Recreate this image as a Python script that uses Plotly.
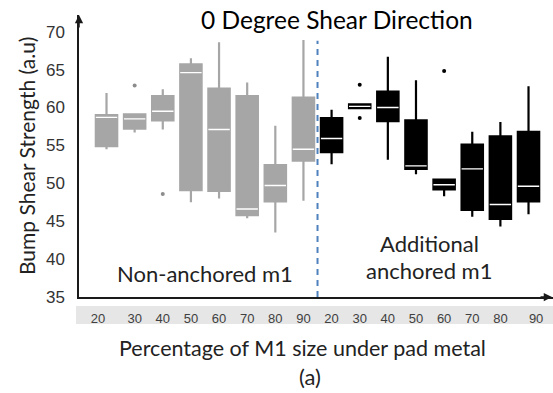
import plotly.graph_objects as go

# ---------------- data ----------------
sizes = ["20", "30", "40", "50", "60", "70", "80", "90"]

non_lo  = [54.5, 56.7, 57.1, 47.5, 48.0, 45.4, 43.5, 47.7]
non_q1  = [54.9, 57.2, 58.3, 49.1, 49.0, 45.8, 47.6, 53.0]
non_med = [58.7, 58.5, 59.5, 64.6, 57.1, 46.6, 49.7, 54.5]
non_q3  = [59.0, 59.1, 61.5, 65.7, 62.5, 61.5, 52.4, 61.3]
non_hi  = [61.9, 59.1, 62.4, 66.5, 68.6, 63.3, 57.6, 68.9]
non_out_cat = ["30", "40"]
non_out_val = [62.9, 48.6]

anc_lo  = [52.5, 59.9, 53.1, 51.2, 48.3, 45.6, 44.3, 45.9]
anc_q1  = [54.1, 59.9, 58.2, 51.9, 49.2, 46.5, 45.3, 47.6]
anc_med = [55.9, 60.15, 60.0, 52.3, 49.8, 51.9, 47.2, 49.6]
anc_q3  = [58.6, 60.4, 62.1, 58.3, 50.5, 55.1, 56.2, 56.8]
anc_hi  = [59.7, 60.4, 66.7, 63.6, 50.5, 56.8, 58.1, 62.8]
anc_out_cat = ["30", "30", "60"]
anc_out_val = [63.0, 58.6, 64.8]

y_ticks = [35, 40, 45, 50, 55, 60, 65, 70]

# ---------------- layout helpers ----------------
n = len(sizes)
x_non = list(range(n))
x_anc = list(range(n, 2 * n))
pos_non = {c: i for c, i in zip(sizes, x_non)}
pos_anc = {c: i for c, i in zip(sizes, x_anc)}
# tick labels sit under the boxes; first and last are nudged as in the source
tick_label_pos = [i for i in range(2 * n)]
tick_label_pos[0] = -0.3
tick_label_pos[-1] = 2 * n - 1 + 0.27

GRAY = "#a6a6a6"
BLACK = "#000000"
BOXW = 0.76
NUM_FONT = "Liberation Sans, Arial, sans-serif"
TXT_FONT = "Lato, Open Sans, sans-serif"

L, T, W, H = 79, 15, 474, 282   # plot area in px


def px(x):
    return (x - L) / W


def py(y):
    return (T + H - y) / H


fig = go.Figure()


def add_group(xs, lo, q1, med, q3, hi, color):
    fig.add_trace(go.Box(
        x=xs, lowerfence=lo, q1=q1, median=med, q3=q3, upperfence=hi,
        fillcolor=color, line=dict(color=color, width=2.2), width=BOXW,
        whiskerwidth=0, boxpoints=False, hoverinfo="skip", showlegend=False))
    # white median line
    fig.add_trace(go.Box(
        x=xs, lowerfence=med, q1=med, median=med, q3=med, upperfence=med,
        fillcolor="white", line=dict(color="white", width=1.4), width=BOXW,
        whiskerwidth=0, boxpoints=False, hoverinfo="skip", showlegend=False))


add_group(x_non, non_lo, non_q1, non_med, non_q3, non_hi, GRAY)
add_group(x_anc, anc_lo, anc_q1, anc_med, anc_q3, anc_hi, BLACK)

fig.add_trace(go.Scatter(
    x=[pos_non[c] for c in non_out_cat], y=non_out_val, mode="markers",
    marker=dict(color="#8c8c8c", size=4), hoverinfo="skip", showlegend=False))
fig.add_trace(go.Scatter(
    x=[pos_anc[c] for c in anc_out_cat], y=anc_out_val, mode="markers",
    marker=dict(color=BLACK, size=4), hoverinfo="skip", showlegend=False))

# divider between the two groups
fig.add_trace(go.Scatter(
    x=[n - 0.5, n - 0.5], y=[35, 68.8], mode="lines",
    line=dict(color="#4f81bd", width=2, dash="6px,5px"),
    hoverinfo="skip", showlegend=False))


def label(x, y, text, size, angle=0, color="#222222"):
    return dict(xref="paper", yref="paper", x=px(x), y=py(y), text=text,
                xanchor="center", yanchor="middle", textangle=angle,
                showarrow=False,
                font=dict(family=TXT_FONT, size=size, color=color))


fig.update_layout(
    width=553, height=393,
    margin=dict(l=L, r=553 - L - W, t=T, b=393 - T - H),
    paper_bgcolor="white", plot_bgcolor="white",
    boxmode="overlay",
    xaxis=dict(
        range=[-0.978, 15.87], showgrid=False, zeroline=False,
        showline=True, linecolor="#1a1a1a", linewidth=1.5,
        tickmode="array", tickvals=tick_label_pos, ticktext=sizes + sizes,
        ticks="", ticklabelstandoff=9,
        tickfont=dict(family=NUM_FONT, size=13, color="#404040"),
    ),
    yaxis=dict(
        range=[35, 72.2], showgrid=False, zeroline=False,
        showline=True, linecolor="#1a1a1a", linewidth=1.5,
        tickmode="array", tickvals=y_ticks, ticks="",
        ticklabelstandoff=9,
        tickfont=dict(family=NUM_FONT, size=17, color="#333333"),
    ),
    shapes=[dict(type="rect", xref="paper", yref="paper",
                 x0=px(76), x1=1.0, y0=py(324), y1=py(306),
                 fillcolor="#e6e6e6", line=dict(width=0), layer="below")],
    annotations=[
        # axis arrowheads
        dict(xref="paper", yref="paper", x=0, y=1.0, ax=0, ay=14,
             showarrow=True, arrowhead=2, arrowsize=1.1, arrowwidth=1.5,
             arrowcolor="#1a1a1a", text=""),
        dict(xref="paper", yref="paper", x=1.0, y=0, ax=-14, ay=0,
             showarrow=True, arrowhead=2, arrowsize=1.1, arrowwidth=1.5,
             arrowcolor="#1a1a1a", text=""),
        label(337, 19, "0 Degree Shear Direction", 24.5, color="black"),
        label(26, 156, "Bump Shear Strength (a.u)", 21),
        label(204.5, 273, "Non-anchored m1", 22),
        label(429, 243, "Additional", 22),
        label(429, 270, "anchored m1", 22),
        label(302, 348, "Percentage of M1 size under pad metal", 21.5),
        label(310, 376, "(a)", 22),
    ],
)
fig.layout.annotations[3].textangle = -90

fig.write_html("out.html")
